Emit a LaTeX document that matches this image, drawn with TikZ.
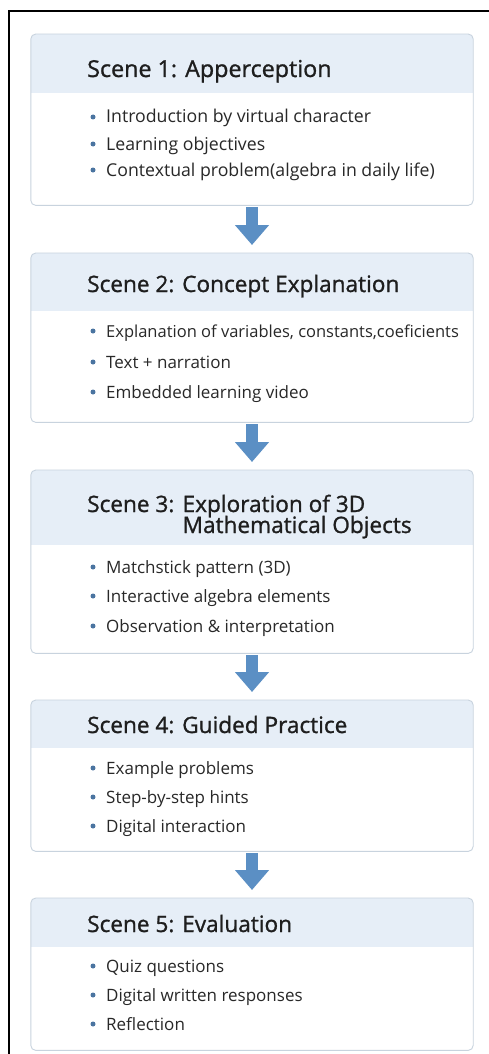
\documentclass[tikz,border=0pt]{standalone}
\usepackage{fontspec}
\setmainfont{Open Sans}
\newfontfamily\titlefont[FakeBold=1.1]{Open Sans}
\usetikzlibrary{arrows.meta}
\definecolor{hdr}{RGB}{230,238,247}
\definecolor{bordc}{RGB}{200,211,222}
\definecolor{arrc}{RGB}{91,143,196}
\definecolor{bulc}{RGB}{74,116,160}
\definecolor{titc}{RGB}{30,30,30}
\definecolor{itc}{RGB}{40,40,40}
\tikzset{
  scenebox/.style={draw=none,fill=white,minimum width=442pt,inner sep=0pt,anchor=north},
  boxborder/.style={draw=bordc,line width=0.9pt,rounded corners=5pt},
  titletext/.style={anchor=base west,inner sep=0pt,text=titc,font=\titlefont\fontsize{22.6}{23}\selectfont},
  itemtext/.style={anchor=base west,inner sep=0pt,text=itc,font=\fontsize{17}{18}\selectfont},
  bigitem/.style={itemtext,font=\fontsize{17.7}{18}\selectfont},
  smallitem/.style={itemtext,font=\fontsize{16.5}{18}\selectfont},
  bul/.style={circle,fill=bulc,inner sep=0pt,minimum size=5pt},
  flow/.style={draw=arrc,line width=12pt,-{Triangle[width=33pt,length=20pt]},shorten <=2pt,shorten >=8pt}
}
\newcommand{\mkbox}[4]{%
  \node[scenebox,minimum height=#4pt-#2pt] (#1) at (252,#2) {};
  \begin{scope}
    \clip[rounded corners=5pt] (#1.south west) rectangle (#1.north east);
    \fill[hdr] (#1.north west) rectangle ([yshift=-(#3pt-#2pt)]#1.north east);
  \end{scope}
  \draw[boxborder] (#1.south west) rectangle (#1.north east);
}
\newcommand{\mkitem}[4][itemtext]{%
  \node[bul] (#2b) at (93,#3-6) {};
  \node[#1] (#2) at (106,#3) {#4};
}
\begin{document}
\begin{tikzpicture}[x=1pt,y=-1pt]
\useasboundingbox (0,0) rectangle (489,1054);
\fill[white] (0,0) rectangle (489,1054);
\draw[line width=2pt,black] (9,1054) -- (9,11) -- (489,11);

\mkbox{b1}{34}{93}{205}
\mkbox{b2}{253}{311}{422}
\mkbox{b3}{470}{545}{653}
\mkbox{b4}{700}{748}{851}
\mkbox{b5}{898}{947}{1050}

\node[titletext,font=\titlefont\fontsize{23.3}{24}\selectfont] (t1) at (87,77) {Scene 1: Apperception};
\mkitem[bigitem]{i11}{123}{Introduction by virtual character}
\mkitem[bigitem]{i12}{150}{Learning objectives}
\mkitem[bigitem]{i13}{176}{Contextual problem(algebra in daily life)}

\node[titletext] (t2) at (87,292) {Scene 2: Concept Explanation};
\mkitem[smallitem]{i21}{337}{Explanation of variables, constants,coeficients}
\mkitem{i22}{368}{Text + narration}
\mkitem{i23}{398}{Embedded learning video}

\node[titletext] (t3) at (87,512) {Scene 3: \mbox{}};
\node[titletext] (t3a) at (t3.base east) {Exploration of 3D};
\node[titletext] (t3b) at ([yshift=-21pt]t3a.base west) {Mathematical Objects};
\mkitem{i31}{573}{Matchstick pattern (3D)}
\mkitem{i32}{602}{Interactive algebra elements}
\mkitem{i33}{632}{Observation \& interpretation}

\node[titletext] (t4) at (87,733) {Scene 4: Guided Practice};
\mkitem{i41}{774}{Example problems}
\mkitem{i42}{803}{Step-by-step hints}
\mkitem{i43}{832}{Digital interaction}

\node[titletext] (t5) at (87,932) {Scene 5: Evaluation};
\mkitem{i51}{972}{Quiz questions}
\mkitem{i52}{1001}{Digital written responses}
\mkitem{i53}{1030}{Reflection}

\draw[flow] (b1.south) -- (b2.north);
\draw[flow] (b2.south) -- (b3.north);
\draw[flow] (b3.south) -- (b4.north);
\draw[flow] (b4.south) -- (b5.north);
\end{tikzpicture}
\end{document}
